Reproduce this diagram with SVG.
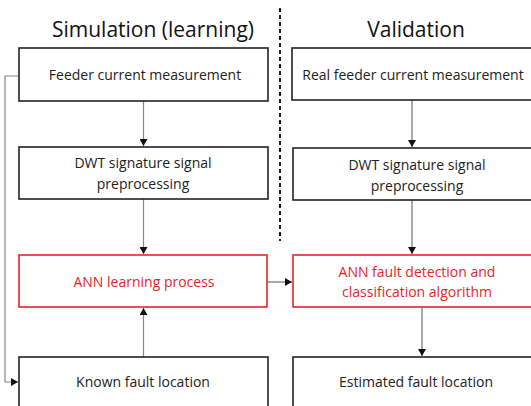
<svg xmlns="http://www.w3.org/2000/svg" width="531" height="406" viewBox="0 0 531 406">
  <style>
    text { font-family: "Open Sans", "Liberation Sans", sans-serif; text-anchor: middle; }
    .title { font-size: 21px; fill: #111; }
    .lbl { font-size: 14px; fill: #222; }
    .lbl-red { font-size: 14px; fill: #e3262b; }
    .box { fill: #fff; stroke: #222; stroke-width: 1.6; }
    .box-red { fill: #fff; stroke: #e3262b; stroke-width: 1.6; }
    .conn { fill: none; stroke: #888; stroke-width: 1.2; }
    .conn-dark { fill: none; stroke: #555; stroke-width: 1; }
    .divider { stroke: #222; stroke-width: 2; stroke-dasharray: 4 3; }
  </style>
  <defs>
    <marker id="arrow" markerWidth="8" markerHeight="8" refX="7" refY="4" orient="auto" markerUnits="userSpaceOnUse">
      <path d="M0,0 L7,4 L0,8 Z" fill="#111"/>
    </marker>
  </defs>

  <rect width="531" height="406" fill="#fff"/>

  <!-- column headings -->
  <text class="title" x="153" y="37">Simulation (learning)</text>
  <text class="title" x="416" y="37">Validation</text>

  <!-- divider between the two columns -->
  <line class="divider" x1="280" y1="8" x2="280" y2="241"/>

  <!-- connectors -->
  <g id="connectors">
    <line class="conn" x1="143.5" y1="101" x2="143.5" y2="146" marker-end="url(#arrow)"/>
    <line class="conn" x1="143.5" y1="199" x2="143.5" y2="254" marker-end="url(#arrow)"/>
    <line class="conn" x1="143.5" y1="357" x2="143.5" y2="308" marker-end="url(#arrow)"/>
    <polyline class="conn" points="19,76 5,76 5,382 18,382" marker-end="url(#arrow)"/>
    <line class="conn-dark" x1="267" y1="282" x2="292" y2="282" marker-end="url(#arrow)"/>
    <line class="conn-dark" x1="412" y1="100" x2="412" y2="147" marker-end="url(#arrow)"/>
    <line class="conn-dark" x1="412" y1="200" x2="412" y2="254" marker-end="url(#arrow)"/>
    <line class="conn-dark" x1="422" y1="307" x2="422" y2="356" marker-end="url(#arrow)"/>
  </g>

  <!-- simulation column -->
  <g id="feeder-current">
    <rect class="box" x="19" y="48" width="249" height="53"/>
    <text class="lbl" x="145" y="80">Feeder current measurement</text>
  </g>
  <g id="dwt-sim">
    <rect class="box" x="19" y="147" width="249" height="52"/>
    <text class="lbl" x="143" y="168">DWT signature signal</text>
    <text class="lbl" x="143" y="189">preprocessing</text>
  </g>
  <g id="ann-learning">
    <rect class="box-red" x="19" y="255" width="248" height="52"/>
    <text class="lbl-red" x="144" y="287">ANN learning process</text>
  </g>
  <g id="known-fault">
    <rect class="box" x="19" y="357" width="249" height="60"/>
    <text class="lbl" x="143" y="387">Known fault location</text>
  </g>

  <!-- validation column -->
  <g id="real-feeder-current">
    <rect class="box" x="292" y="48" width="250" height="52"/>
    <text class="lbl" x="413" y="80">Real feeder current measurement</text>
  </g>
  <g id="dwt-val">
    <rect class="box" x="293" y="148" width="250" height="52"/>
    <text class="lbl" x="417" y="170">DWT signature signal</text>
    <text class="lbl" x="417" y="191">preprocessing</text>
  </g>
  <g id="ann-detection">
    <rect class="box-red" x="293" y="255" width="250" height="52"/>
    <text class="lbl-red" x="417" y="277">ANN fault detection and</text>
    <text class="lbl-red" x="417" y="297">classification algorithm</text>
  </g>
  <g id="estimated-fault">
    <rect class="box" x="293" y="357" width="250" height="60"/>
    <text class="lbl" x="416" y="387">Estimated fault location</text>
  </g>
</svg>
